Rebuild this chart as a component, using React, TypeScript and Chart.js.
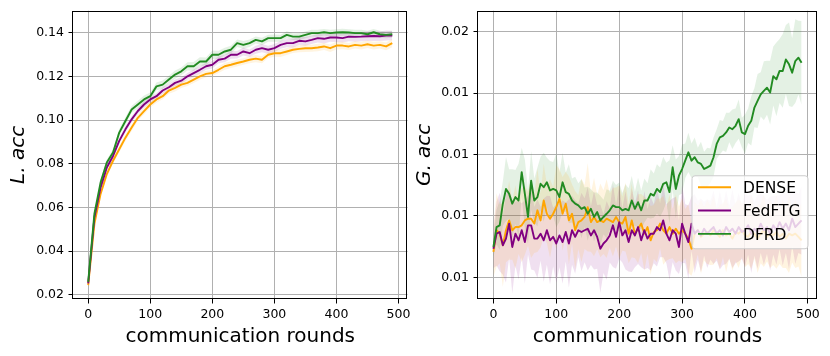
import React, { useEffect, useRef } from "react";
import { Chart, registerables } from "chart.js";

Chart.register(...registerables);

const FONT = "'DejaVu Sans', 'Liberation Sans', sans-serif";

// ---------------- Left panel: L.acc ----------------
const leftRounds = [
  0, 10, 20, 30, 40, 50, 60, 70, 80, 90,
  100, 110, 120, 130, 140, 150, 160, 170, 180, 190,
  200, 210, 220, 230, 240, 250, 260, 270, 280, 290,
  300, 310, 320, 330, 340, 350, 360, 370, 380, 390,
  400, 410, 420, 430, 440, 450, 460, 470, 480, 490,
];
const leftDENSE = [
  0.0244, 0.0525, 0.0662, 0.0753, 0.0814, 0.0867, 0.0920, 0.0966, 0.1011, 0.1042,
  0.1072, 0.1095, 0.1110, 0.1136, 0.1148, 0.1163, 0.1171, 0.1186, 0.1201, 0.1212,
  0.1216, 0.1231, 0.1247, 0.1254, 0.1262, 0.1269, 0.1277, 0.1282, 0.1277, 0.1300,
  0.1307, 0.1307, 0.1315, 0.1323, 0.1327, 0.1330, 0.1330, 0.1333, 0.1338, 0.1330,
  0.1342, 0.1342, 0.1338, 0.1345, 0.1342, 0.1348, 0.1342, 0.1345, 0.1338, 0.1353,
];
const leftFedFTG = [
  0.0252, 0.0555, 0.0692, 0.0783, 0.0836, 0.0905, 0.0958, 0.1004, 0.1042, 0.1072,
  0.1095, 0.1110, 0.1136, 0.1151, 0.1171, 0.1181, 0.1201, 0.1216, 0.1231, 0.1247,
  0.1254, 0.1277, 0.1282, 0.1300, 0.1300, 0.1315, 0.1307, 0.1323, 0.1330, 0.1323,
  0.1330, 0.1345, 0.1353, 0.1353, 0.1364, 0.1361, 0.1368, 0.1376, 0.1373, 0.1379,
  0.1379, 0.1376, 0.1383, 0.1382, 0.1383, 0.1385, 0.1386, 0.1385, 0.1388, 0.1388,
];
const leftDFRD = [
  0.0259, 0.0571, 0.0715, 0.0806, 0.0852, 0.0943, 0.0996, 0.1049, 0.1072, 0.1095,
  0.1110, 0.1155, 0.1163, 0.1186, 0.1209, 0.1224, 0.1247, 0.1247, 0.1269, 0.1269,
  0.1300, 0.1300, 0.1315, 0.1323, 0.1353, 0.1345, 0.1353, 0.1368, 0.1361, 0.1376,
  0.1376, 0.1376, 0.1391, 0.1383, 0.1383, 0.1391, 0.1399, 0.1399, 0.1403, 0.1399,
  0.1402, 0.1403, 0.1402, 0.1399, 0.1399, 0.1394, 0.1403, 0.1394, 0.1391, 0.1394,
];
const leftDENSEStd = [
  0.0003, 0.0010, 0.0012, 0.0013, 0.0014, 0.0014, 0.0015, 0.0015, 0.0014, 0.0015,
  0.0014, 0.0015, 0.0014, 0.0015, 0.0016, 0.0015, 0.0014, 0.0015, 0.0016, 0.0015,
  0.0014, 0.0015, 0.0016, 0.0015, 0.0016, 0.0015, 0.0016, 0.0017, 0.0016, 0.0015,
  0.0016, 0.0017, 0.0016, 0.0015, 0.0016, 0.0017, 0.0016, 0.0017, 0.0016, 0.0017,
  0.0018, 0.0017, 0.0016, 0.0017, 0.0018, 0.0017, 0.0018, 0.0017, 0.0018, 0.0019,
];
const leftFedFTGStd = [
  0.0003, 0.0010, 0.0012, 0.0013, 0.0013, 0.0014, 0.0014, 0.0015, 0.0014, 0.0015,
  0.0015, 0.0014, 0.0015, 0.0016, 0.0015, 0.0016, 0.0015, 0.0016, 0.0017, 0.0016,
  0.0017, 0.0016, 0.0017, 0.0018, 0.0017, 0.0018, 0.0017, 0.0018, 0.0019, 0.0018,
  0.0019, 0.0018, 0.0019, 0.0020, 0.0019, 0.0020, 0.0019, 0.0020, 0.0021, 0.0020,
  0.0021, 0.0020, 0.0021, 0.0022, 0.0021, 0.0022, 0.0023, 0.0022, 0.0023, 0.0022,
];
const leftDFRDStd = [
  0.0003, 0.0011, 0.0013, 0.0014, 0.0015, 0.0016, 0.0017, 0.0016, 0.0017, 0.0018,
  0.0017, 0.0018, 0.0019, 0.0018, 0.0019, 0.0018, 0.0019, 0.0020, 0.0019, 0.0018,
  0.0019, 0.0018, 0.0017, 0.0018, 0.0017, 0.0018, 0.0017, 0.0016, 0.0017, 0.0016,
  0.0017, 0.0016, 0.0017, 0.0016, 0.0017, 0.0016, 0.0015, 0.0016, 0.0015, 0.0016,
  0.0015, 0.0016, 0.0015, 0.0016, 0.0015, 0.0016, 0.0015, 0.0016, 0.0015, 0.0016,
];
const leftXTicks = [0, 100, 200, 300, 400, 500];
const leftXLabels = ["0", "100", "200", "300", "400", "500"];
const leftYTicks = [0.02, 0.04, 0.06, 0.08, 0.1, 0.12, 0.14];
const leftYLabels = ["0.02", "0.04", "0.06", "0.08", "0.10", "0.12", "0.14"];

// ---------------- Right panel: G.acc ----------------
const rightRounds = [
  0, 5, 10, 15, 20, 25, 30, 35, 40, 45,
  50, 55, 60, 65, 70, 75, 80, 85, 90, 95,
  100, 105, 110, 115, 120, 125, 130, 135, 140, 145,
  150, 155, 160, 165, 170, 175, 180, 185, 190, 195,
  200, 205, 210, 215, 220, 225, 230, 235, 240, 245,
  250, 255, 260, 265, 270, 275, 280, 285, 290, 295,
  300, 305, 310, 315, 320, 325, 330, 335, 340, 345,
  350, 355, 360, 365, 370, 375, 380, 385, 390, 395,
  400, 405, 410, 415, 420, 425, 430, 435, 440, 445,
  450, 455, 460, 465, 470, 475, 480, 485, 490,
];
const rightDENSE = [
  0.00854, 0.00942, 0.00928, 0.00881, 0.00942, 0.00982, 0.00942, 0.00955, 0.00955, 0.00962,
  0.00982, 0.00989, 0.00989, 0.00969, 0.01023, 0.00982, 0.01063, 0.01009, 0.00989, 0.01009,
  0.01036, 0.01070, 0.01009, 0.01050, 0.00982, 0.01009, 0.00942, 0.00975, 0.00982, 0.00996,
  0.01036, 0.00975, 0.00996, 0.00975, 0.00982, 0.00975, 0.00989, 0.00982, 0.00975, 0.00996,
  0.00975, 0.00969, 0.00996, 0.00928, 0.00982, 0.00928, 0.00948, 0.00969, 0.00928, 0.00955,
  0.00901, 0.00935, 0.00942, 0.00969, 0.00942, 0.00928, 0.00955, 0.00928, 0.00948, 0.00928,
  0.00942, 0.00928, 0.00908, 0.00867, 0.00928, 0.00942, 0.00915, 0.00928, 0.00935, 0.00921,
  0.00942, 0.00928, 0.00915, 0.00942, 0.00921, 0.00928, 0.00908, 0.00935, 0.00928, 0.00942,
  0.00921, 0.00915, 0.00935, 0.00928, 0.00908, 0.00928, 0.00942, 0.00915, 0.00928, 0.00921,
  0.00935, 0.00915, 0.00928, 0.00908, 0.00928, 0.00921, 0.00928, 0.00915, 0.00901,
];
const rightFedFTG = [
  0.00867, 0.00928, 0.00935, 0.00881, 0.00908, 0.00969, 0.00874, 0.00928, 0.00901, 0.00942,
  0.00894, 0.00962, 0.00962, 0.00908, 0.00908, 0.00928, 0.00901, 0.00942, 0.00901, 0.00915,
  0.00888, 0.00921, 0.00894, 0.00935, 0.00888, 0.00942, 0.00915, 0.00942, 0.00935, 0.00942,
  0.00948, 0.00921, 0.00942, 0.00915, 0.00867, 0.00888, 0.00901, 0.00921, 0.00962, 0.00915,
  0.00975, 0.00921, 0.00942, 0.00894, 0.00942, 0.00921, 0.00955, 0.00901, 0.00942, 0.00908,
  0.00928, 0.00928, 0.00955, 0.00942, 0.00982, 0.00928, 0.00901, 0.00942, 0.00928, 0.00874,
  0.00969, 0.00928, 0.00894, 0.00969, 0.00928, 0.00942, 0.00921, 0.00948, 0.00928, 0.00942,
  0.00955, 0.00928, 0.00942, 0.00921, 0.00955, 0.00935, 0.00948, 0.00928, 0.00955, 0.00935,
  0.00942, 0.00962, 0.00928, 0.00948, 0.00935, 0.00969, 0.00942, 0.00955, 0.00928, 0.00962,
  0.00942, 0.00975, 0.00948, 0.00969, 0.00942, 0.00989, 0.00955, 0.00969, 0.00982,
];
const rightDFRD = [
  0.00874, 0.00955, 0.00962, 0.01050, 0.01110, 0.01090, 0.01050, 0.01077, 0.01063, 0.01178,
  0.01090, 0.00996, 0.01144, 0.01063, 0.01077, 0.01131, 0.01117, 0.01137, 0.01104, 0.01110,
  0.01104, 0.01077, 0.01137, 0.01097, 0.01090, 0.01063, 0.01050, 0.01043, 0.01029, 0.01036,
  0.01009, 0.01029, 0.00996, 0.01016, 0.00982, 0.00996, 0.01009, 0.01023, 0.01043, 0.01036,
  0.01036, 0.01023, 0.01029, 0.01023, 0.01063, 0.01029, 0.01056, 0.01023, 0.01063, 0.01063,
  0.01090, 0.01083, 0.01110, 0.01097, 0.01131, 0.01137, 0.01097, 0.01198, 0.01110, 0.01164,
  0.01191, 0.01225, 0.01259, 0.01225, 0.01239, 0.01218, 0.01212, 0.01191, 0.01198, 0.01205,
  0.01239, 0.01293, 0.01320, 0.01326, 0.01340, 0.01360, 0.01353, 0.01367, 0.01394, 0.01340,
  0.01333, 0.01367, 0.01387, 0.01441, 0.01468, 0.01495, 0.01509, 0.01522, 0.01502, 0.01569,
  0.01556, 0.01590, 0.01590, 0.01637, 0.01617, 0.01583, 0.01630, 0.01644, 0.01623,
];
const rightDENSEStd = [
  0.0010, 0.0015, 0.0012, 0.0017, 0.0013, 0.0016, 0.0012, 0.0017, 0.0011, 0.0015,
  0.0014, 0.0011, 0.0016, 0.0012, 0.0017, 0.0011, 0.0015, 0.0012, 0.0016, 0.0011,
  0.0017, 0.0012, 0.0015, 0.0013, 0.0018, 0.0012, 0.0016, 0.0011, 0.0017, 0.0013,
  0.0018, 0.0012, 0.0016, 0.0011, 0.0015, 0.0013, 0.0016, 0.0011, 0.0014, 0.0012,
  0.0015, 0.0011, 0.0014, 0.0012, 0.0015, 0.0010, 0.0014, 0.0012, 0.0015, 0.0011,
  0.0014, 0.0011, 0.0013, 0.0010, 0.0014, 0.0011, 0.0013, 0.0010, 0.0014, 0.0011,
  0.0013, 0.0010, 0.0014, 0.0011, 0.0013, 0.0010, 0.0015, 0.0011, 0.0013, 0.0012,
  0.0014, 0.0010, 0.0013, 0.0011, 0.0015, 0.0010, 0.0013, 0.0012, 0.0014, 0.0011,
  0.0013, 0.0011, 0.0015, 0.0010, 0.0014, 0.0012, 0.0015, 0.0010, 0.0014, 0.0012,
  0.0015, 0.0011, 0.0014, 0.0012, 0.0016, 0.0011, 0.0014, 0.0012, 0.0015,
];
const rightFedFTGStd = [
  0.0008, 0.0013, 0.0016, 0.0012, 0.0018, 0.0014, 0.0019, 0.0013, 0.0016, 0.0011,
  0.0017, 0.0012, 0.0018, 0.0013, 0.0016, 0.0011, 0.0017, 0.0014, 0.0018, 0.0012,
  0.0016, 0.0013, 0.0017, 0.0012, 0.0018, 0.0014, 0.0015, 0.0011, 0.0016, 0.0013,
  0.0017, 0.0012, 0.0016, 0.0013, 0.0018, 0.0012, 0.0016, 0.0011, 0.0017, 0.0013,
  0.0015, 0.0011, 0.0016, 0.0012, 0.0017, 0.0013, 0.0015, 0.0011, 0.0016, 0.0012,
  0.0015, 0.0012, 0.0016, 0.0011, 0.0015, 0.0012, 0.0016, 0.0013, 0.0015, 0.0011,
  0.0016, 0.0012, 0.0015, 0.0011, 0.0016, 0.0012, 0.0015, 0.0011, 0.0014, 0.0012,
  0.0015, 0.0011, 0.0016, 0.0012, 0.0015, 0.0011, 0.0016, 0.0012, 0.0014, 0.0011,
  0.0015, 0.0012, 0.0016, 0.0011, 0.0015, 0.0012, 0.0014, 0.0011, 0.0015, 0.0012,
  0.0014, 0.0011, 0.0015, 0.0012, 0.0016, 0.0011, 0.0015, 0.0012, 0.0014,
];
const rightDFRDStd = [
  0.0004, 0.0007, 0.0010, 0.0009, 0.0013, 0.0010, 0.0014, 0.0011, 0.0015, 0.0010,
  0.0014, 0.0011, 0.0012, 0.0009, 0.0012, 0.0011, 0.0014, 0.0010, 0.0012, 0.0011,
  0.0015, 0.0010, 0.0012, 0.0008, 0.0012, 0.0009, 0.0011, 0.0009, 0.0012, 0.0008,
  0.0011, 0.0008, 0.0010, 0.0008, 0.0010, 0.0007, 0.0010, 0.0008, 0.0010, 0.0009,
  0.0010, 0.0007, 0.0010, 0.0009, 0.0010, 0.0007, 0.0010, 0.0008, 0.0009, 0.0007,
  0.0010, 0.0009, 0.0010, 0.0010, 0.0011, 0.0008, 0.0013, 0.0009, 0.0012, 0.0008,
  0.0010, 0.0007, 0.0008, 0.0007, 0.0008, 0.0006, 0.0009, 0.0007, 0.0008, 0.0007,
  0.0008, 0.0006, 0.0007, 0.0006, 0.0008, 0.0006, 0.0008, 0.0007, 0.0008, 0.0006,
  0.0008, 0.0007, 0.0010, 0.0008, 0.0011, 0.0009, 0.0012, 0.0011, 0.0013, 0.0012,
  0.0015, 0.0013, 0.0015, 0.0014, 0.0017, 0.0014, 0.0017, 0.0015, 0.0017,
];
const rightXTicks = [0, 100, 200, 300, 400, 500];
const rightXLabels = ["0", "100", "200", "300", "400", "500"];
const rightYTicks = [0.0075, 0.01, 0.0125, 0.015, 0.0175];
const rightYLabels = ["0.01", "0.01", "0.01", "0.01", "0.02"];

const seriesNames = ["DENSE", "FedFTG", "DFRD"];
const seriesColors = ["#ffa500", "#800080", "#228b22"];
const bandColors = ["rgba(255,165,0,0.12)", "rgba(128,0,128,0.12)", "rgba(34,139,34,0.12)"];

function pts(xs: number[], ys: number[]) {
  return xs.map((x, i) => ({ x, y: ys[i] }));
}

function buildDatasets(xs: number[], means: number[][], stds: number[][]) {
  const lines: any[] = [];
  const bands: any[] = [];
  means.forEach((m, k) => {
    lines.push({
      label: seriesNames[k],
      data: pts(xs, m),
      borderColor: seriesColors[k],
      backgroundColor: seriesColors[k],
      borderWidth: 1.9,
      pointRadius: 0,
      tension: 0,
      fill: false,
      borderJoinStyle: "round",
      order: 2 - k,
      inLegend: true,
    });
  });
  means.forEach((m, k) => {
    const s = stds[k];
    bands.push({
      label: seriesNames[k] + " lower",
      data: pts(xs, m.map((v, i) => v - s[i])),
      borderColor: "rgba(0,0,0,0)",
      borderWidth: 0,
      pointRadius: 0,
      tension: 0,
      fill: false,
      order: 5,
    });
    bands.push({
      label: seriesNames[k] + " upper",
      data: pts(xs, m.map((v, i) => v + s[i])),
      borderColor: "rgba(0,0,0,0)",
      borderWidth: 0,
      pointRadius: 0,
      tension: 0,
      fill: "-1",
      backgroundColor: bandColors[k],
      order: 5,
    });
  });
  return [...lines, ...bands];
}

const framePlugin = {
  id: "frame",
  afterDraw(chart: any) {
    const { ctx, chartArea: a } = chart;
    ctx.save();
    ctx.strokeStyle = "#000";
    ctx.lineWidth = 1;
    const l = Math.round(a.left) - 0.5;
    const t = Math.round(a.top) + 0.5;
    const r = Math.round(a.right) - 0.5;
    const b = Math.round(a.bottom) - 0.5;
    ctx.strokeRect(l, t, r - l, b - t);
    ctx.restore();
  },
};

const innerLegendPlugin = {
  id: "innerLegend",
  afterDraw(chart: any) {
    const { ctx, chartArea: a } = chart;
    const items = chart.data.datasets.filter((d: any) => d.inLegend);
    const w = 116;
    const h = 73;
    const x0 = a.right - 9 - w;
    const y0 = a.top + 165;
    const rad = 3;
    ctx.save();
    ctx.beginPath();
    ctx.moveTo(x0 + rad, y0);
    ctx.lineTo(x0 + w - rad, y0);
    ctx.quadraticCurveTo(x0 + w, y0, x0 + w, y0 + rad);
    ctx.lineTo(x0 + w, y0 + h - rad);
    ctx.quadraticCurveTo(x0 + w, y0 + h, x0 + w - rad, y0 + h);
    ctx.lineTo(x0 + rad, y0 + h);
    ctx.quadraticCurveTo(x0, y0 + h, x0, y0 + h - rad);
    ctx.lineTo(x0, y0 + rad);
    ctx.quadraticCurveTo(x0, y0, x0 + rad, y0);
    ctx.closePath();
    ctx.fillStyle = "rgba(255,255,255,0.8)";
    ctx.fill();
    ctx.strokeStyle = "#cccccc";
    ctx.lineWidth = 1;
    ctx.stroke();
    ctx.font = `15.5px ${FONT}`;
    ctx.textBaseline = "alphabetic";
    ctx.textAlign = "left";
    items.forEach((d: any, i: number) => {
      const cy = y0 + 11.5 + i * 23.3;
      ctx.strokeStyle = d.borderColor;
      ctx.lineWidth = 1.9;
      ctx.beginPath();
      ctx.moveTo(x0 + 6, cy);
      ctx.lineTo(x0 + 39, cy);
      ctx.stroke();
      ctx.fillStyle = "#000";
      ctx.fillText(d.label, x0 + 51, cy + 5.7);
    });
    ctx.restore();
  },
};

function makeConfig(opts: {
  xs: number[];
  means: number[][];
  stds: number[][];
  xTicks: number[];
  xLabels: string[];
  yTicks: number[];
  yLabels: string[];
  yMin: number;
  yMax: number;
  yTitle: string;
  yAxisWidth: number;
  padRight: number;
  yTitlePad: number;
  legend: boolean;
}): any {
  const tickFont = { family: FONT, size: 12.5, lineHeight: 1 };
  const titleFont = { family: FONT, size: 20, lineHeight: 1 };
  const grid = {
    color: "#b0b0b0",
    lineWidth: 1,
    tickColor: "#000",
    tickLength: 4.5,
    tickWidth: 1,
    drawTicks: true,
  };
  return {
    type: "line",
    data: { datasets: buildDatasets(opts.xs, opts.means, opts.stds) },
    plugins: opts.legend ? [framePlugin, innerLegendPlugin] : [framePlugin],
    options: {
      animation: false,
      responsive: false,
      maintainAspectRatio: false,
      events: [],
      layout: { padding: { left: 0, right: opts.padRight, top: 9, bottom: 0 } },
      plugins: { legend: { display: false }, tooltip: { enabled: false }, title: { display: false } },
      scales: {
        x: {
          type: "linear",
          min: -24.5,
          max: 514.5,
          afterBuildTicks: (s: any) => {
            s.ticks = opts.xTicks.map((v) => ({ value: v }));
          },
          afterFit: (s: any) => {
            s.height = 57;
          },
          ticks: {
            autoSkip: false,
            maxRotation: 0,
            minRotation: 0,
            padding: 4.5,
            color: "#000",
            font: tickFont,
            callback: (_v: any, i: number) => opts.xLabels[i],
          },
          grid,
          border: { display: false },
          title: {
            display: true,
            text: "communication rounds",
            color: "#000",
            font: titleFont,
            padding: { top: 0, bottom: 9 },
          },
        },
        y: {
          type: "linear",
          min: opts.yMin,
          max: opts.yMax,
          afterBuildTicks: (s: any) => {
            s.ticks = opts.yTicks.map((v) => ({ value: v }));
          },
          afterFit: (s: any) => {
            s.width = opts.yAxisWidth;
          },
          ticks: {
            autoSkip: false,
            padding: 4.5,
            color: "#000",
            font: tickFont,
            callback: (_v: any, i: number) => opts.yLabels[i],
          },
          grid,
          border: { display: false },
          title: {
            display: true,
            text: opts.yTitle,
            color: "#000",
            font: { ...titleFont, style: "italic" },
            padding: { top: opts.yTitlePad, bottom: 0 },
          },
        },
      },
    },
  };
}

export default function App() {
  const leftRef = useRef<HTMLCanvasElement>(null);
  const rightRef = useRef<HTMLCanvasElement>(null);

  useEffect(() => {
    Chart.defaults.font.family = FONT;
    const left = new Chart(
      leftRef.current as HTMLCanvasElement,
      makeConfig({
        xs: leftRounds,
        means: [leftDENSE, leftFedFTG, leftDFRD],
        stds: [leftDENSEStd, leftFedFTGStd, leftDFRDStd],
        xTicks: leftXTicks,
        xLabels: leftXLabels,
        yTicks: leftYTicks,
        yLabels: leftYLabels,
        yMin: 0.01804,
        yMax: 0.15016,
        yTitle: "L. acc",
        yAxisWidth: 73,
        padRight: 3,
        yTitlePad: 9,
        legend: false,
      })
    );
    const right = new Chart(
      rightRef.current as HTMLCanvasElement,
      makeConfig({
        xs: rightRounds,
        means: [rightDENSE, rightFedFTG, rightDFRD],
        stds: [rightDENSEStd, rightFedFTGStd, rightDFRDStd],
        xTicks: rightXTicks,
        xLabels: rightXLabels,
        yTicks: rightYTicks,
        yLabels: rightYLabels,
        yMin: 0.006623,
        yMax: 0.018349,
        yTitle: "G. acc",
        yAxisWidth: 63,
        padRight: 13,
        yTitlePad: 0,
        legend: true,
      })
    );
    return () => {
      left.destroy();
      right.destroy();
    };
  }, []);

  return (
    <div style={{ position: "absolute", left: 0, top: 0, width: 830, height: 356, background: "#fff" }}>
      <canvas
        ref={leftRef}
        width={415}
        height={356}
        style={{ position: "absolute", left: 0, top: 0, width: 415, height: 356 }}
      />
      <canvas
        ref={rightRef}
        width={415}
        height={356}
        style={{ position: "absolute", left: 415, top: 0, width: 415, height: 356 }}
      />
    </div>
  );
}
